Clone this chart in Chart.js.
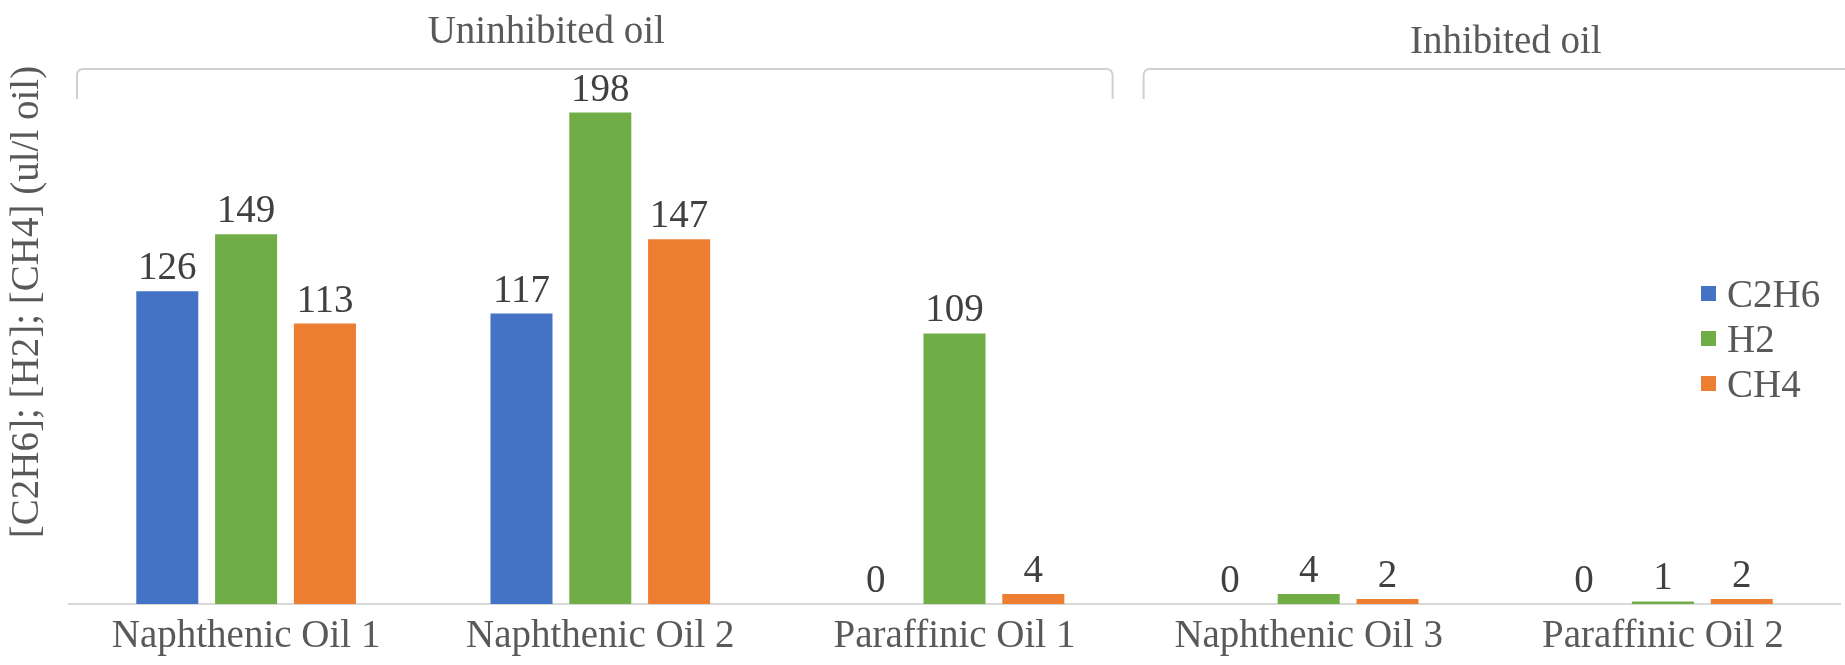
<!DOCTYPE html>
<html>
<head>
<meta charset="utf-8">
<title>Dissolved gases in oil</title>
<script src="https://cdn.jsdelivr.net/npm/chart.js@4.4.1/dist/chart.umd.min.js"></script>
<style>
  html, body { margin: 0; padding: 0; background: #ffffff; }
  #wrap { position: relative; width: 1845px; height: 665px; }
</style>
</head>
<body>
<div id="wrap"><canvas id="chart"></canvas></div>
<script>
// Oil samples on the category axis
const categories = ['Naphthenic Oil 1', 'Naphthenic Oil 2', 'Paraffinic Oil 1', 'Naphthenic Oil 3', 'Paraffinic Oil 2'];

// Gas concentrations, ul/l oil
const c2h6 = [126, 117, 0, 0, 0];
const h2   = [149, 198, 109, 4, 1];
const ch4  = [113, 147, 4, 2, 2];

const seriesNames = ['C2H6', 'H2', 'CH4'];

// Brackets grouping the samples (index of first and last category)
const groupNames = ['Uninhibited oil', 'Inhibited oil'];
const groupFirst = [0, 3];
const groupLast  = [2, 4];

const axisTitle = '[C2H6]; [H2]; [CH4] (ul/l oil)';

const FONT = 'Liberation Serif, Times New Roman, serif';
const TEXT = '#595959';
const LABEL = '#404040';
const COLORS = ['#4472C4', '#70AD47', '#ED7D31'];

// Value labels above each bar
const valueLabels = {
  id: 'valueLabels',
  afterDatasetsDraw(chart) {
    const ctx = chart.ctx;
    ctx.save();
    ctx.font = '39px ' + FONT;
    ctx.fillStyle = LABEL;
    ctx.textAlign = 'center';
    ctx.textBaseline = 'alphabetic';
    chart.data.datasets.forEach((ds, i) => {
      const meta = chart.getDatasetMeta(i);
      meta.data.forEach((bar, j) => {
        ctx.fillText(String(ds.data[j]), bar.x, bar.y - 12);
      });
    });
    ctx.restore();
  }
};

// Group brackets with their titles above the plot
const groupBrackets = {
  id: 'groupBrackets',
  afterDraw(chart) {
    const ctx = chart.ctx;
    const xs = chart.scales.x;
    const half = (xs.getPixelForValue(1) - xs.getPixelForValue(0)) / 2;
    const lineY = 69, footY = 99, r = 6;
    const titleDx = [-54, 20];
    const titleY = [43, 53];
    ctx.save();
    groupNames.forEach((name, g) => {
      const start = xs.getPixelForValue(groupFirst[g]) - half;
      const end = xs.getPixelForValue(groupLast[g]) + half;
      const left = start + (g === 0 ? 8 : 12);
      const openRight = groupLast[g] === categories.length - 1;
      const right = openRight ? chart.width + 20 : end - 19;
      ctx.strokeStyle = '#d0d0d0';
      ctx.lineWidth = 2;
      ctx.beginPath();
      ctx.moveTo(left, footY);
      ctx.lineTo(left, lineY + r);
      ctx.arcTo(left, lineY, left + r, lineY, r);
      ctx.lineTo(right - r, lineY);
      ctx.arcTo(right, lineY, right, lineY + r, r);
      ctx.lineTo(right, footY);
      ctx.stroke();

      ctx.font = '39px ' + FONT;
      ctx.fillStyle = TEXT;
      ctx.textAlign = 'center';
      ctx.textBaseline = 'alphabetic';
      ctx.fillText(name, (start + end) / 2 + titleDx[g], titleY[g]);
    });
    ctx.restore();
  }
};

// Vertical value-axis title and the series key
const sideTexts = {
  id: 'sideTexts',
  afterDraw(chart) {
    const ctx = chart.ctx;
    ctx.save();
    ctx.font = '39px ' + FONT;
    ctx.fillStyle = TEXT;
    ctx.translate(28, 302);
    ctx.rotate(-Math.PI / 2);
    ctx.textAlign = 'center';
    ctx.textBaseline = 'middle';
    ctx.fillText(axisTitle, 0, 0);
    ctx.restore();

    ctx.save();
    ctx.font = '39px ' + FONT;
    ctx.textAlign = 'left';
    ctx.textBaseline = 'alphabetic';
    const rowY = [294, 339, 384];
    chart.data.datasets.forEach((ds, i) => {
      ctx.fillStyle = ds.backgroundColor;
      ctx.fillRect(1701, rowY[i] - 8, 15, 15);
      ctx.fillStyle = TEXT;
      ctx.fillText(ds.label, 1727, rowY[i] + 13);
    });
    ctx.restore();
  }
};

const seriesData = [c2h6, h2, ch4];

new Chart(document.getElementById('chart'), {
  type: 'bar',
  data: {
    labels: categories,
    datasets: seriesNames.map((name, i) => ({
      label: name,
      data: seriesData[i],
      backgroundColor: COLORS[i],
      borderWidth: 0,
      categoryPercentage: 0.6675,
      barPercentage: 0.787
    }))
  },
  options: {
    responsive: true,
    maintainAspectRatio: false,
    animation: false,
    devicePixelRatio: 1,
    layout: { padding: { left: 69, right: 5, top: 58, bottom: -4 } },
    plugins: {
      legend: { display: false },
      tooltip: { enabled: false }
    },
    scales: {
      x: {
        grid: { display: false, drawTicks: false },
        border: { display: true, color: '#d9d9d9', width: 2 },
        ticks: {
          color: TEXT,
          font: { family: FONT, size: 39, lineHeight: 0.9 },
          padding: 15,
          maxRotation: 0,
          autoSkip: false
        }
      },
      y: {
        display: false,
        min: 0,
        max: 220
      }
    }
  },
  plugins: [valueLabels, groupBrackets, sideTexts]
});
</script>
</body>
</html>
